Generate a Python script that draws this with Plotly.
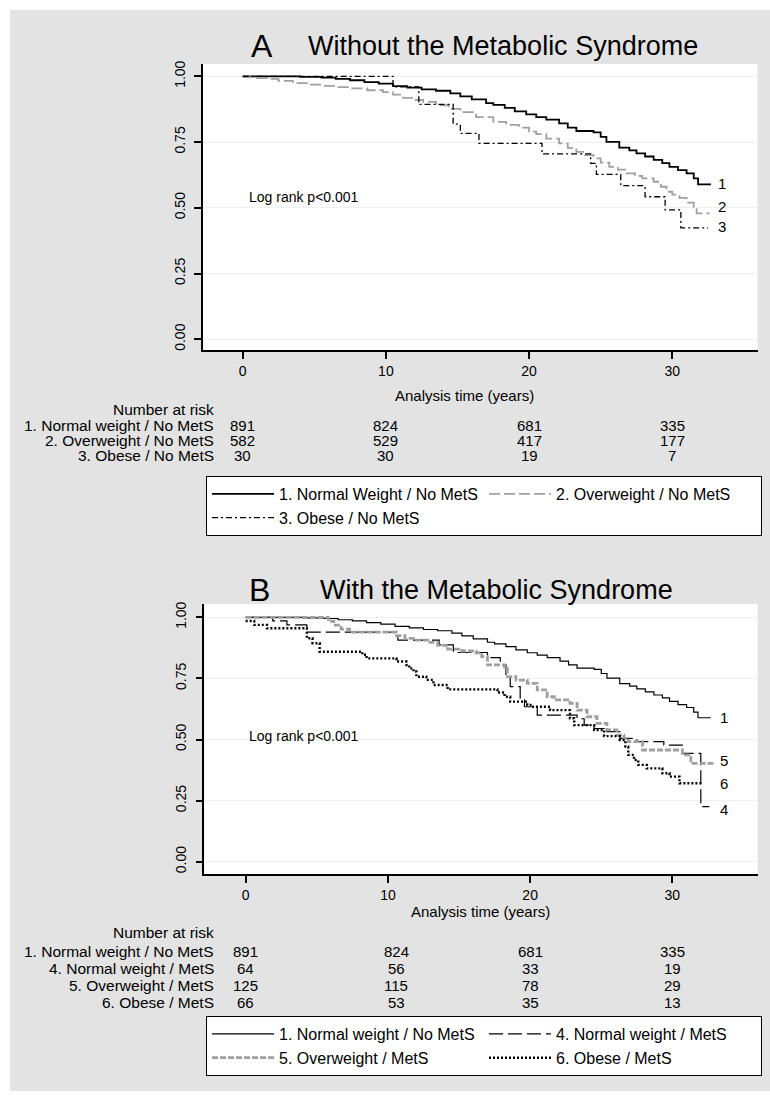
import plotly.graph_objects as go

W, H = 770, 1101

# ---------------- data ----------------
# Panel A: without the metabolic syndrome
t_nw_nomets = [0, 2.0, 4.0, 5.5, 6.5, 7.5, 8.5, 9.5, 10.5, 11.5, 12.5, 13.5, 14.5, 15.2, 16.0,
               17.0, 17.5, 18.3, 19.0, 19.8, 20.5, 21.2, 22.1, 22.7, 23.3, 24.5, 25.0, 25.4,
               26.3, 27.0, 27.5, 28.1, 28.7, 29.3, 29.8, 30.4, 31.0, 31.5, 31.8, 32.7]
s_nw_nomets = [1.0, 1.0, 0.998, 0.995, 0.990, 0.985, 0.978, 0.972, 0.963, 0.957, 0.950, 0.945,
               0.935, 0.924, 0.912, 0.898, 0.891, 0.880, 0.867, 0.855, 0.845, 0.835, 0.821,
               0.805, 0.792, 0.787, 0.770, 0.751, 0.729, 0.718, 0.707, 0.695, 0.682, 0.670,
               0.656, 0.643, 0.631, 0.612, 0.589, 0.589]

t_ow_nomets = [0, 1.0, 1.7, 2.5, 3.5, 4.5, 5.6, 6.5, 7.5, 8.7, 9.8, 10.5, 11.2, 12.0, 12.6,
               13.5, 14.4, 15.2, 16.3, 17.5, 18.4, 19.3, 20.0, 20.5, 21.2, 22.1, 22.7, 23.3,
               23.9, 24.5, 25.0, 25.6, 26.2, 26.8, 27.4, 27.9, 28.7, 29.2, 29.6, 30.0, 30.5,
               31.0, 31.5, 31.7, 32.6]
s_ow_nomets = [0.997, 0.993, 0.990, 0.983, 0.974, 0.968, 0.964, 0.959, 0.954, 0.947, 0.940,
               0.930, 0.918, 0.910, 0.903, 0.890, 0.876, 0.864, 0.845, 0.827, 0.815, 0.805,
               0.790, 0.780, 0.763, 0.745, 0.728, 0.713, 0.700, 0.688, 0.672, 0.656, 0.645,
               0.631, 0.621, 0.612, 0.599, 0.580, 0.561, 0.550, 0.538, 0.520, 0.504, 0.479,
               0.479]

t_ob_nomets = [0, 10.5, 12.3, 14.7, 15.2, 16.5, 20.9, 24.3, 24.7, 26.4, 28.1, 29.5, 30.6, 32.5]
s_ob_nomets = [1.0, 0.960, 0.893, 0.818, 0.783, 0.745, 0.705, 0.669, 0.627, 0.584, 0.542,
               0.492, 0.424, 0.424]

# Panel B: with the metabolic syndrome
t_nw_mets = [0, 1.9, 2.9, 4.3, 10.7, 13.6, 14.6, 17.0, 17.9, 18.3, 18.6, 19.3, 19.6, 20.5,
             23.3, 23.8, 24.5, 25.2, 26.3, 27.5, 29.4, 30.7, 32.0, 32.6]
s_nw_mets = [1.0, 0.985, 0.969, 0.939, 0.907, 0.887, 0.856, 0.835, 0.805, 0.757, 0.716,
             0.662, 0.634, 0.600, 0.585, 0.559, 0.545, 0.532, 0.505, 0.491, 0.477, 0.443,
             0.225, 0.225]

t_ow_mets = [0, 5.8, 6.2, 6.7, 7.3, 10.6, 11.2, 12.0, 12.8, 13.5, 14.2, 15.2, 16.2, 16.6,
             17.0, 18.2, 18.4, 19.0, 19.8, 20.5, 21.2, 21.7, 22.8, 23.3, 24.0, 24.7, 25.4,
             26.1, 26.6, 26.9, 27.9, 30.7, 31.3, 32.9]
s_ow_mets = [1.0, 0.984, 0.968, 0.952, 0.939, 0.925, 0.914, 0.907, 0.897, 0.885, 0.870,
             0.862, 0.855, 0.839, 0.805, 0.790, 0.757, 0.743, 0.730, 0.703, 0.675, 0.662,
             0.648, 0.620, 0.593, 0.566, 0.539, 0.518, 0.505, 0.491, 0.457, 0.437, 0.402,
             0.402]

t_ob_mets = [0, 0.6, 1.5, 4.3, 4.7, 5.2, 8.2, 8.5, 10.6, 11.3, 11.5, 11.8, 12.0, 12.7, 13.2,
             14.2, 17.7, 18.2, 18.6, 19.8, 20.2, 21.4, 22.8, 23.1, 24.5, 25.2, 26.3, 26.7,
             26.9, 27.3, 27.6, 28.2, 29.3, 29.8, 30.5, 32.05]
s_ob_mets = [0.985, 0.969, 0.955, 0.914, 0.894, 0.859, 0.847, 0.832, 0.819, 0.805, 0.791,
             0.778, 0.757, 0.744, 0.723, 0.705, 0.692, 0.675, 0.655, 0.641, 0.634, 0.620,
             0.587, 0.559, 0.539, 0.514, 0.498, 0.471, 0.437, 0.416, 0.396, 0.382, 0.362,
             0.348, 0.321, 0.321]

# Number at risk
risk_times_A = [0, 10, 20, 30]
risk_times_B = [0, 10.6, 20, 30]
risk_labels_A = ["1. Normal weight / No MetS", "2. Overweight / No MetS", "3. Obese / No MetS"]
risk_A_nw_nomets = [891, 824, 681, 335]
risk_A_ow_nomets = [582, 529, 417, 177]
risk_A_ob_nomets = [30, 30, 19, 7]
risk_labels_B = ["1. Normal weight / No MetS", "4. Normal weight / MetS",
                 "5. Overweight / MetS", "6. Obese / MetS"]
risk_B_nw_nomets = [891, 824, 681, 335]
risk_B_nw_mets = [64, 56, 33, 19]
risk_B_ow_mets = [125, 115, 78, 29]
risk_B_ob_mets = [66, 53, 35, 13]

# Legend names
legend_A = ["1. Normal Weight / No MetS", "2. Overweight / No MetS", "3. Obese / No MetS"]
legend_B = ["1. Normal weight / No MetS", "4. Normal weight / MetS",
            "5. Overweight / MetS", "6. Obese / MetS"]
curve_tags_A = ["1", "2", "3"]
curve_tags_B = ["1", "4", "5", "6"]

# ---------------- figure ----------------
FONT = "Liberation Sans, Arial, sans-serif"
GRAY = "#a0a0a0"
BG = "#e3e3e3"


def px(x):
    return x / W


def py(y):
    return 1 - y / H


fig = go.Figure()


def add_curve(t, s, name, xa, ya, color, width, dash, legend):
    fig.add_trace(go.Scatter(
        x=t, y=s, mode="lines", name=name, xaxis=xa, yaxis=ya, legend=legend,
        line=dict(shape="hv", color=color, width=width, dash=dash), hoverinfo="skip"))


add_curve(t_nw_nomets, s_nw_nomets, legend_A[0], "x", "y", "black", 1.8, "solid", "legend")
add_curve(t_ow_nomets, s_ow_nomets, legend_A[1], "x", "y", GRAY, 1.8, "11px,4px", "legend")
add_curve(t_ob_nomets, s_ob_nomets, legend_A[2], "x", "y", "black", 1.3, "6px,3px,2px,3px", "legend")

add_curve(t_nw_nomets, s_nw_nomets, legend_B[0], "x2", "y2", "black", 1.2, "solid", "legend2")
add_curve(t_nw_mets, s_nw_mets, legend_B[1], "x2", "y2", "black", 1.2, "14px,5px", "legend2")
add_curve(t_ow_mets, s_ow_mets, legend_B[2], "x2", "y2", GRAY, 2.8, "6px,2px", "legend2")
add_curve(t_ob_mets, s_ob_mets, legend_B[3], "x2", "y2", "black", 2.4, "2px,2px", "legend2")

axis_common = dict(showline=True, linecolor="black", linewidth=1.5, ticks="outside",
                   ticklen=7, tickwidth=1.5, tickcolor="black", zeroline=False,
                   tickfont=dict(size=14, color="black", family=FONT))
yticks = [0, 0.25, 0.5, 0.75, 1.0]

annotations = []


def text(x, y, s, size=15, xanchor="center", xref="paper", yref="paper"):
    annotations.append(dict(x=x, y=y, xref=xref, yref=yref, text=s, showarrow=False,
                            xanchor=xanchor, yanchor="middle",
                            font=dict(size=size, color="black", family=FONT)))


# titles
text(px(262), py(46), "A", size=32)
text(px(306), py(46), "Without the Metabolic Syndrome", size=27, xanchor="left")
text(px(259), py(590), "B", size=32)
text(px(318), py(590), "With the Metabolic Syndrome", size=27, xanchor="left")

# log rank
text(0.28, 0.542, "Log rank p<0.001", size=14, xanchor="left", xref="x", yref="y")
text(0.07, 0.514, "Log rank p<0.001", size=14, xanchor="left", xref="x2", yref="y2")

# axis titles
text(px(464), py(395), "Analysis time (years)", size=15)
text(px(480), py(911), "Analysis time (years)", size=15)

# curve end tags
tag_nudge_A = [0.005, 0.025, 0.004]
for tag, s, nd in zip(curve_tags_A, [s_nw_nomets, s_ow_nomets, s_ob_nomets], tag_nudge_A):
    text(33.45, s[-1] + nd, tag, size=15, xref="x", yref="y")
tag_nudge_B = [0.002, -0.011, 0.011, 0.0]
for tag, s, nd in zip(curve_tags_B, [s_nw_nomets, s_nw_mets, s_ow_mets, s_ob_mets], tag_nudge_B):
    text(33.6, s[-1] + nd, tag, size=15, xref="x2", yref="y2")

# number at risk tables
TS = 15.5
text(px(216), py(410), "Number at risk", size=TS, xanchor="right")
rows_A = [risk_A_nw_nomets, risk_A_ow_nomets, risk_A_ob_nomets]
for i, (lab, vals) in enumerate(zip(risk_labels_A, rows_A)):
    yy = py(426 + 14.6 * i)
    text(px(216), yy, lab, size=TS, xanchor="right")
    for t, v in zip(risk_times_A, vals):
        text(t, yy, str(v), size=15, xref="x")

text(px(216), py(932), "Number at risk", size=TS, xanchor="right")
rows_B = [risk_B_nw_nomets, risk_B_nw_mets, risk_B_ow_mets, risk_B_ob_mets]
for i, (lab, vals) in enumerate(zip(risk_labels_B, rows_B)):
    yy = py(951 + 17.3 * i)
    text(px(216), yy, lab, size=TS, xanchor="right")
    for t, v in zip(risk_times_B, vals):
        text(t, yy, str(v), size=15, xref="x2")

legend_common = dict(orientation="h", xanchor="left", yanchor="top", bgcolor="white",
                     bordercolor="black", borderwidth=1, itemwidth=62, traceorder="normal",
                     font=dict(size=16, color="black", family=FONT),
                     xref="paper", yref="paper")

fig.update_layout(
    width=W, height=H, margin=dict(l=0, r=0, t=0, b=0, autoexpand=False),
    paper_bgcolor=BG, plot_bgcolor="white", font=dict(family=FONT, color="black"),
    xaxis=dict(domain=[px(203), px(757.5)], range=[-2.77, 35.95], tickvals=risk_times_A,
               showgrid=False, anchor="y", **axis_common),
    yaxis=dict(domain=[py(350), py(64)], range=[-0.0407, 1.0468], tickvals=yticks,
               tickformat=".2f", tickangle=-90, showgrid=True, gridcolor="#efefef",
               gridwidth=1, anchor="x", ticklabelstandoff=4, **axis_common),
    xaxis2=dict(domain=[px(204.3), px(757.7)], range=[-2.91, 36.0], tickvals=[0, 10, 20, 30],
                showgrid=False, anchor="y2", **axis_common),
    yaxis2=dict(domain=[py(874), py(604)], range=[-0.0503, 1.0544], tickvals=yticks,
                tickformat=".2f", tickangle=-90, showgrid=True, gridcolor="#efefef",
                gridwidth=1, anchor="x2", ticklabelstandoff=4, **axis_common),
    legend=dict(x=px(206), y=py(476), entrywidth=200, **legend_common),
    legend2=dict(x=px(206), y=py(1016), entrywidth=200, **legend_common),
    annotations=annotations,
    shapes=[
        dict(type="rect", xref="paper", yref="paper", x0=0, x1=px(10), y0=0, y1=1,
             fillcolor="white", line_width=0, layer="above"),
        dict(type="rect", xref="paper", yref="paper", x0=0, x1=1, y0=py(10), y1=1,
             fillcolor="white", line_width=0, layer="above"),
        dict(type="rect", xref="paper", yref="paper", x0=0, x1=1, y0=0, y1=py(1091),
             fillcolor="white", line_width=0, layer="above"),
    ],
    showlegend=True,
)

fig.write_html("out.html", config={"displayModeBar": False},
               post_script="document.body.style.margin='0px';"
                           "document.body.style.overflow='hidden';")
